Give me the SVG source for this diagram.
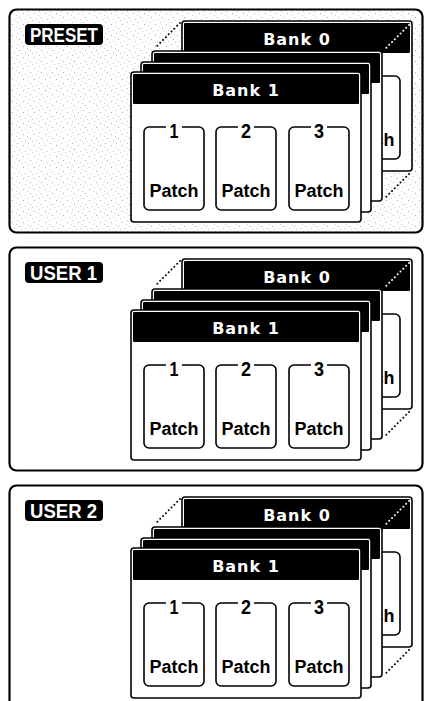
<svg xmlns="http://www.w3.org/2000/svg" width="426" height="701" viewBox="0 0 426 701">
  <defs>
    <!-- sparse halftone dots for the preset area -->
    <pattern id="stipple" width="11" height="11" patternUnits="userSpaceOnUse">
      <rect width="11" height="11" fill="#fff"/>
      <rect x="1" y="2" width="1" height="1" fill="#a8a8a8"/>
      <rect x="6" y="0" width="1" height="1" fill="#c0c0c0"/>
      <rect x="8" y="6" width="1" height="1" fill="#a8a8a8"/>
      <rect x="3" y="8" width="1" height="1" fill="#c4c4c4"/>
      <rect x="5" y="4" width="1" height="1" fill="#d0d0d0"/>
      <rect x="10" y="9" width="1" height="1" fill="#cccccc"/>
    </pattern>
    <style>
      .panel{stroke:#000;stroke-width:2.2}
      .tag{fill:#000}
      .tagtxt{font-family:"Liberation Sans",Arial,sans-serif;font-weight:bold;font-size:21px;fill:#fff}
      .bank{fill:#fff;stroke:#000;stroke-width:1.6}
      .head{fill:#000}
      .banktxt{font-family:"DejaVu Sans",sans-serif;font-weight:bold;font-size:16px;fill:#fff;letter-spacing:1px;text-anchor:middle}
      .box{fill:none;stroke:#000;stroke-width:1.6}
      .gap{fill:#fff}
      .num{font-family:"Liberation Sans",Arial,sans-serif;font-weight:bold;font-size:21px;text-anchor:middle;fill:#000}
      .patch{font-family:"Liberation Sans",Arial,sans-serif;font-weight:bold;font-size:18px;text-anchor:middle;fill:#000}
      .dots{stroke:#000;stroke-width:2;stroke-linecap:round;stroke-dasharray:0 4;fill:none}
      .dots.w{stroke:#fff}
    </style>
  </defs>

  <!-- ===== PRESET ===== -->
  <g transform="translate(0,0)">
    <g id="preset">
      <rect class="panel" x="9.5" y="9.5" width="413" height="223" rx="7" fill="url(#stipple)"/>
      <rect class="tag" x="25" y="24" width="78" height="21" rx="4"/>
      <text class="tagtxt" x="30" y="42" textLength="68" lengthAdjust="spacingAndGlyphs">PRESET</text>
    </g>
    <g id="preset-bank-0">
      <rect class="bank" x="182" y="21" width="230" height="150" rx="3"/>
      <rect class="head" x="184" y="23" width="226" height="30" rx="1"/>
      <text class="banktxt" x="297" y="45">Bank 0</text>
      <rect class="box" x="340" y="76" width="60" height="83" rx="5"/>
      <text class="patch" x="370" y="146">Patch</text>
    </g>
    <g id="preset-bank-a">
      <rect class="bank" x="152" y="51" width="230" height="150" rx="3"/>
      <rect class="head" x="154" y="53" width="226" height="30" rx="1"/>
    </g>
    <g id="preset-bank-b">
      <rect class="bank" x="141" y="62" width="230" height="150" rx="3"/>
      <rect class="head" x="143" y="64" width="226" height="30" rx="1"/>
    </g>
    <g id="preset-bank-1">
      <rect class="bank" x="131" y="72" width="230" height="150" rx="3"/>
      <rect class="head" x="133" y="74" width="226" height="30" rx="1"/>
      <text class="banktxt" x="246" y="96">Bank 1</text>
      <g id="preset-patch-1">
        <rect class="box" x="144" y="127" width="60" height="83" rx="5"/>
        <rect class="gap" x="166" y="121" width="16" height="11"/>
        <text class="num" x="174" y="138" textLength="9" lengthAdjust="spacingAndGlyphs">1</text>
        <text class="patch" x="174" y="197">Patch</text>
      </g>
      <g id="preset-patch-2">
        <rect class="box" x="216" y="127" width="60" height="83" rx="5"/>
        <rect class="gap" x="238" y="121" width="16" height="11"/>
        <text class="num" x="246" y="138" textLength="10" lengthAdjust="spacingAndGlyphs">2</text>
        <text class="patch" x="246" y="197">Patch</text>
      </g>
      <g id="preset-patch-3">
        <rect class="box" x="289" y="127" width="60" height="83" rx="5"/>
        <rect class="gap" x="311" y="121" width="16" height="11"/>
        <text class="num" x="319" y="138" textLength="10" lengthAdjust="spacingAndGlyphs">3</text>
        <text class="patch" x="319" y="197">Patch</text>
      </g>
    </g>
    <g id="preset-connectors">
      <line class="dots" x1="180" y1="23" x2="155" y2="48"/>
      <line class="dots w" x1="409" y1="25" x2="386" y2="48"/>
      <line class="dots" x1="409" y1="174" x2="385" y2="198"/>
    </g>
  </g>

  <!-- ===== USER 1 ===== -->
  <g transform="translate(0,238)">
    <g id="user1">
      <rect class="panel" x="9.5" y="9.5" width="413" height="223" rx="7" fill="#fff"/>
      <rect class="tag" x="25" y="24" width="78" height="21" rx="4"/>
      <text class="tagtxt" x="30" y="42" textLength="67" lengthAdjust="spacingAndGlyphs">USER 1</text>
    </g>
    <g id="user1-bank-0">
      <rect class="bank" x="182" y="21" width="230" height="150" rx="3"/>
      <rect class="head" x="184" y="23" width="226" height="30" rx="1"/>
      <text class="banktxt" x="297" y="45">Bank 0</text>
      <rect class="box" x="340" y="76" width="60" height="83" rx="5"/>
      <text class="patch" x="370" y="146">Patch</text>
    </g>
    <g id="user1-bank-a">
      <rect class="bank" x="152" y="51" width="230" height="150" rx="3"/>
      <rect class="head" x="154" y="53" width="226" height="30" rx="1"/>
    </g>
    <g id="user1-bank-b">
      <rect class="bank" x="141" y="62" width="230" height="150" rx="3"/>
      <rect class="head" x="143" y="64" width="226" height="30" rx="1"/>
    </g>
    <g id="user1-bank-1">
      <rect class="bank" x="131" y="72" width="230" height="150" rx="3"/>
      <rect class="head" x="133" y="74" width="226" height="30" rx="1"/>
      <text class="banktxt" x="246" y="96">Bank 1</text>
      <g id="user1-patch-1">
        <rect class="box" x="144" y="127" width="60" height="83" rx="5"/>
        <rect class="gap" x="166" y="121" width="16" height="11"/>
        <text class="num" x="174" y="138" textLength="9" lengthAdjust="spacingAndGlyphs">1</text>
        <text class="patch" x="174" y="197">Patch</text>
      </g>
      <g id="user1-patch-2">
        <rect class="box" x="216" y="127" width="60" height="83" rx="5"/>
        <rect class="gap" x="238" y="121" width="16" height="11"/>
        <text class="num" x="246" y="138" textLength="10" lengthAdjust="spacingAndGlyphs">2</text>
        <text class="patch" x="246" y="197">Patch</text>
      </g>
      <g id="user1-patch-3">
        <rect class="box" x="289" y="127" width="60" height="83" rx="5"/>
        <rect class="gap" x="311" y="121" width="16" height="11"/>
        <text class="num" x="319" y="138" textLength="10" lengthAdjust="spacingAndGlyphs">3</text>
        <text class="patch" x="319" y="197">Patch</text>
      </g>
    </g>
    <g id="user1-connectors">
      <line class="dots" x1="180" y1="23" x2="155" y2="48"/>
      <line class="dots w" x1="409" y1="25" x2="386" y2="48"/>
      <line class="dots" x1="409" y1="174" x2="385" y2="198"/>
    </g>
  </g>

  <!-- ===== USER 2 ===== -->
  <g transform="translate(0,476)">
    <g id="user2">
      <rect class="panel" x="9.5" y="9.5" width="413" height="223" rx="7" fill="#fff"/>
      <rect class="tag" x="25" y="24" width="78" height="21" rx="4"/>
      <text class="tagtxt" x="30" y="42" textLength="67" lengthAdjust="spacingAndGlyphs">USER 2</text>
    </g>
    <g id="user2-bank-0">
      <rect class="bank" x="182" y="21" width="230" height="150" rx="3"/>
      <rect class="head" x="184" y="23" width="226" height="30" rx="1"/>
      <text class="banktxt" x="297" y="45">Bank 0</text>
      <rect class="box" x="340" y="76" width="60" height="83" rx="5"/>
      <text class="patch" x="370" y="146">Patch</text>
    </g>
    <g id="user2-bank-a">
      <rect class="bank" x="152" y="51" width="230" height="150" rx="3"/>
      <rect class="head" x="154" y="53" width="226" height="30" rx="1"/>
    </g>
    <g id="user2-bank-b">
      <rect class="bank" x="141" y="62" width="230" height="150" rx="3"/>
      <rect class="head" x="143" y="64" width="226" height="30" rx="1"/>
    </g>
    <g id="user2-bank-1">
      <rect class="bank" x="131" y="72" width="230" height="150" rx="3"/>
      <rect class="head" x="133" y="74" width="226" height="30" rx="1"/>
      <text class="banktxt" x="246" y="96">Bank 1</text>
      <g id="user2-patch-1">
        <rect class="box" x="144" y="127" width="60" height="83" rx="5"/>
        <rect class="gap" x="166" y="121" width="16" height="11"/>
        <text class="num" x="174" y="138" textLength="9" lengthAdjust="spacingAndGlyphs">1</text>
        <text class="patch" x="174" y="197">Patch</text>
      </g>
      <g id="user2-patch-2">
        <rect class="box" x="216" y="127" width="60" height="83" rx="5"/>
        <rect class="gap" x="238" y="121" width="16" height="11"/>
        <text class="num" x="246" y="138" textLength="10" lengthAdjust="spacingAndGlyphs">2</text>
        <text class="patch" x="246" y="197">Patch</text>
      </g>
      <g id="user2-patch-3">
        <rect class="box" x="289" y="127" width="60" height="83" rx="5"/>
        <rect class="gap" x="311" y="121" width="16" height="11"/>
        <text class="num" x="319" y="138" textLength="10" lengthAdjust="spacingAndGlyphs">3</text>
        <text class="patch" x="319" y="197">Patch</text>
      </g>
    </g>
    <g id="user2-connectors">
      <line class="dots" x1="180" y1="23" x2="155" y2="48"/>
      <line class="dots w" x1="409" y1="25" x2="386" y2="48"/>
      <line class="dots" x1="409" y1="174" x2="385" y2="198"/>
    </g>
  </g>
</svg>
